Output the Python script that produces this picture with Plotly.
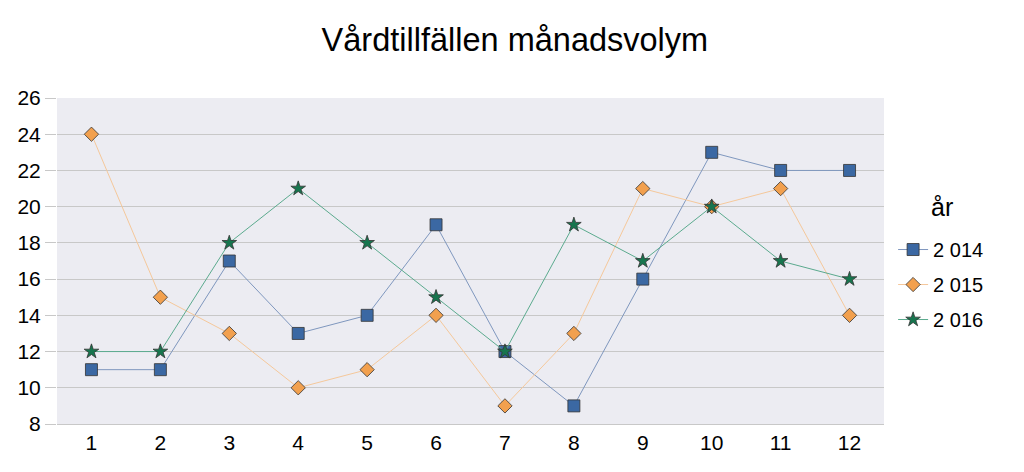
import plotly.graph_objects as go

months = list(range(1, 13))
y2014 = [11, 11, 17, 13, 14, 19, 12, 9, 16, 23, 22, 22]
y2015 = [24, 15, 13, 10, 11, 14, 9, 13, 21, 20, 21, 14]
y2016 = [12, 12, 18, 21, 18, 15, 12, 19, 17, 20, 17, 16]

series = [
    ("2 014", y2014, "square", 12, "#3B68A3", "#7F97BE"),
    ("2 015", y2015, "diamond", 11, "#F2A04E", "#F5C89B"),
    ("2 016", y2016, "star", 11, "#17754E", "#5BAA8E"),
]

fig = go.Figure()
for name, vals, sym, size, col, linecol in series:
    fig.add_trace(go.Scatter(
        x=months, y=vals, name=name, mode="lines+markers", legendgroup=name,
        line=dict(color=linecol, width=1),
        marker=dict(symbol=sym, size=size, color=col,
                    line=dict(color="#333333", width=0.8)),
    ))

# page body has an 8px margin, so offsets below are shifted by 8px
fig.update_layout(
    width=1024, height=472,
    paper_bgcolor="white", plot_bgcolor="#ECECF2",
    font=dict(family="Liberation Sans, Arial, sans-serif", color="black"),
    title=dict(text="Vårdtillfällen månadsvolym", x=0.495, xanchor="center",
               y=0.932, yanchor="middle", font=dict(size=32.5)),
    margin=dict(l=49, r=148, t=90, b=56),
    legend=dict(x=1.011, xanchor="left", y=0.595, yanchor="top",
                font=dict(size=20), traceorder="grouped", tracegroupgap=6,
                bgcolor="rgba(0,0,0,0)"),
    showlegend=True,
)
fig.add_annotation(text="år", xref="paper", yref="paper", x=1.07, y=0.666,
                   xanchor="center", yanchor="middle", showarrow=False,
                   font=dict(size=25))
fig.update_xaxes(range=[0.5, 12.5], tickvals=months, showgrid=False, zeroline=False,
                 showline=True, linecolor="#C8C8C8", tickfont=dict(size=21), ticks="",
                 automargin=False)
fig.update_yaxes(range=[8, 26], dtick=2, showgrid=True, gridcolor="#C8C8C8", zeroline=False,
                 tickfont=dict(size=21), ticks="outside", ticklen=11, tickcolor="#C8C8C8",
                 automargin=False)

fig.write_html("out.html")
